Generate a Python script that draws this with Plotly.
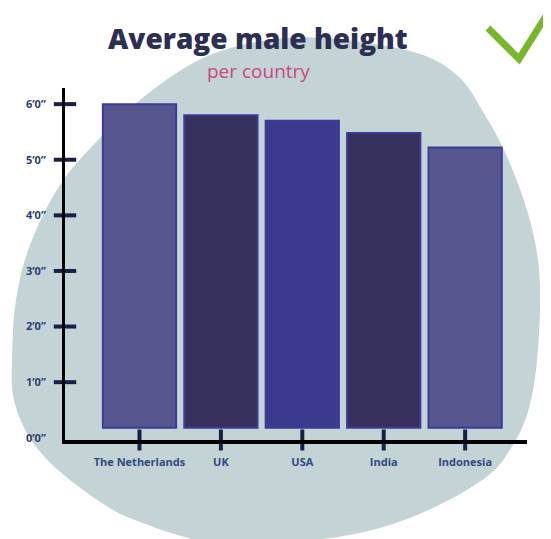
import plotly.graph_objects as go

# ---- data ----
countries = ["The Netherlands", "UK", "USA", "India", "Indonesia"]
heights_ft = [6.0, 5.8, 5.7, 5.48, 5.22]
ytick_vals = [0, 1, 2, 3, 4, 5, 6]
ytick_text = ["0’0”", "1’0”", "2’0”", "3’0”", "4’0”", "5’0”", "6’0”"]

# ---- style ----
OFF = 8  # page body margin
W, H = 551 - OFF, 539 - OFF
ML, MR, MT, MB = 65 - OFF, 24, 88 - OFF, 99
PW, PH = W - ML - MR, H - MT - MB
BAR_BASE = 0.18
X_RANGE = [-0.915, 4.76]
Y_RANGE = [-0.04, 6.29]
bar_colors = ["#57568f", "#36305c", "#3c3a8e", "#36305c", "#57568f"]
NAVY = "#2c3f6d"


def to_paper(px, py):
    # px, py in page pixels
    return (px - OFF - ML) / PW, (H - MB - (py - OFF)) / PH


def smooth_closed_path(pts):
    n = len(pts)
    P = [to_paper(*p) for p in pts]
    d = f"M {P[0][0]:.4f},{P[0][1]:.4f}"
    for i in range(n):
        p0, p1, p2, p3 = P[i - 1], P[i], P[(i + 1) % n], P[(i + 2) % n]
        c1 = (p1[0] + (p2[0] - p0[0]) / 6, p1[1] + (p2[1] - p0[1]) / 6)
        c2 = (p2[0] - (p3[0] - p1[0]) / 6, p2[1] - (p3[1] - p1[1]) / 6)
        d += f" C {c1[0]:.4f},{c1[1]:.4f} {c2[0]:.4f},{c2[1]:.4f} {p2[0]:.4f},{p2[1]:.4f}"
    return d + " Z"


blob_pts = [(285, 38), (360, 42), (423, 55), (460, 78), (482, 110), (505, 152),
            (527, 210), (538, 260), (540, 310), (536, 370), (527, 415), (511, 448),
            (489, 475), (439, 505), (380, 528), (316, 540), (255, 545), (197, 540),
            (140, 522), (105, 505), (58, 470), (30, 438), (14, 400), (12, 360),
            (16, 300), (30, 245), (60, 185), (100, 138), (150, 92), (210, 55)]

xs = list(range(len(countries)))

fig = go.Figure()
fig.add_trace(go.Bar(
    x=xs, y=[h - BAR_BASE for h in heights_ft], base=BAR_BASE,
    marker=dict(color=bar_colors, line=dict(color="#3d3b9a", width=2)),
    width=0.9, hoverinfo="skip", showlegend=False,
))
# y tick marks crossing axis
fig.add_trace(go.Scatter(
    x=[X_RANGE[0]] * (len(ytick_vals) - 1), y=ytick_vals[1:], mode="markers",
    marker=dict(symbol="line-ew", size=16, line=dict(color="#1b1f45", width=4)),
    cliponaxis=False, hoverinfo="skip", showlegend=False,
))
# x tick marks crossing axis
fig.add_trace(go.Scatter(
    x=xs, y=[Y_RANGE[0]] * len(xs), mode="markers",
    marker=dict(symbol="line-ns", size=15, line=dict(color="#1b1f45", width=4)),
    cliponaxis=False, hoverinfo="skip", showlegend=False,
))

check = to_paper(488, 28), to_paper(519, 59), to_paper(556, 0)
fig.update_layout(
    width=W, height=H,
    margin=dict(l=ML, r=MR, t=MT, b=MB, pad=0),
    paper_bgcolor="white", plot_bgcolor="rgba(0,0,0,0)",
    xaxis=dict(range=X_RANGE, tickvals=xs, ticktext=countries, showgrid=False,
               zeroline=False, showline=True, linecolor="black", linewidth=4,
               ticks="", ticklabelstandoff=9,
               tickfont=dict(family="Open Sans", size=11, color="#2f4a7c", weight="bold")),
    yaxis=dict(range=Y_RANGE, tickvals=ytick_vals, ticktext=ytick_text, showgrid=False,
               zeroline=False, showline=True, linecolor="black", linewidth=3,
               ticks="", ticklabelstandoff=14,
               tickfont=dict(family="Open Sans", size=11, color=NAVY, weight="bold")),
    shapes=[
        dict(type="path", xref="paper", yref="paper", path=smooth_closed_path(blob_pts),
             fillcolor="#c3d3d6", line=dict(width=0), layer="below"),
        dict(type="path", xref="paper", yref="paper",
             path=f"M {check[0][0]:.4f},{check[0][1]:.4f} L {check[1][0]:.4f},{check[1][1]:.4f} L {check[2][0]:.4f},{check[2][1]:.4f}",
             line=dict(color="#77b82a", width=7), layer="above"),
    ],
    annotations=[
        dict(text="Average male height", xref="paper", yref="paper",
             x=to_paper(258, 38)[0], y=to_paper(258, 38)[1], xanchor="center", yanchor="middle",
             showarrow=False,
             font=dict(family="Open Sans", size=28, color="#2d2f52", weight=800)),
        dict(text="per country", xref="paper", yref="paper",
             x=to_paper(258, 71)[0], y=to_paper(258, 71)[1], xanchor="center", yanchor="middle",
             showarrow=False,
             font=dict(family="Open Sans", size=19, color="#c9487a")),
    ],
)

fig.write_html("out.html")
